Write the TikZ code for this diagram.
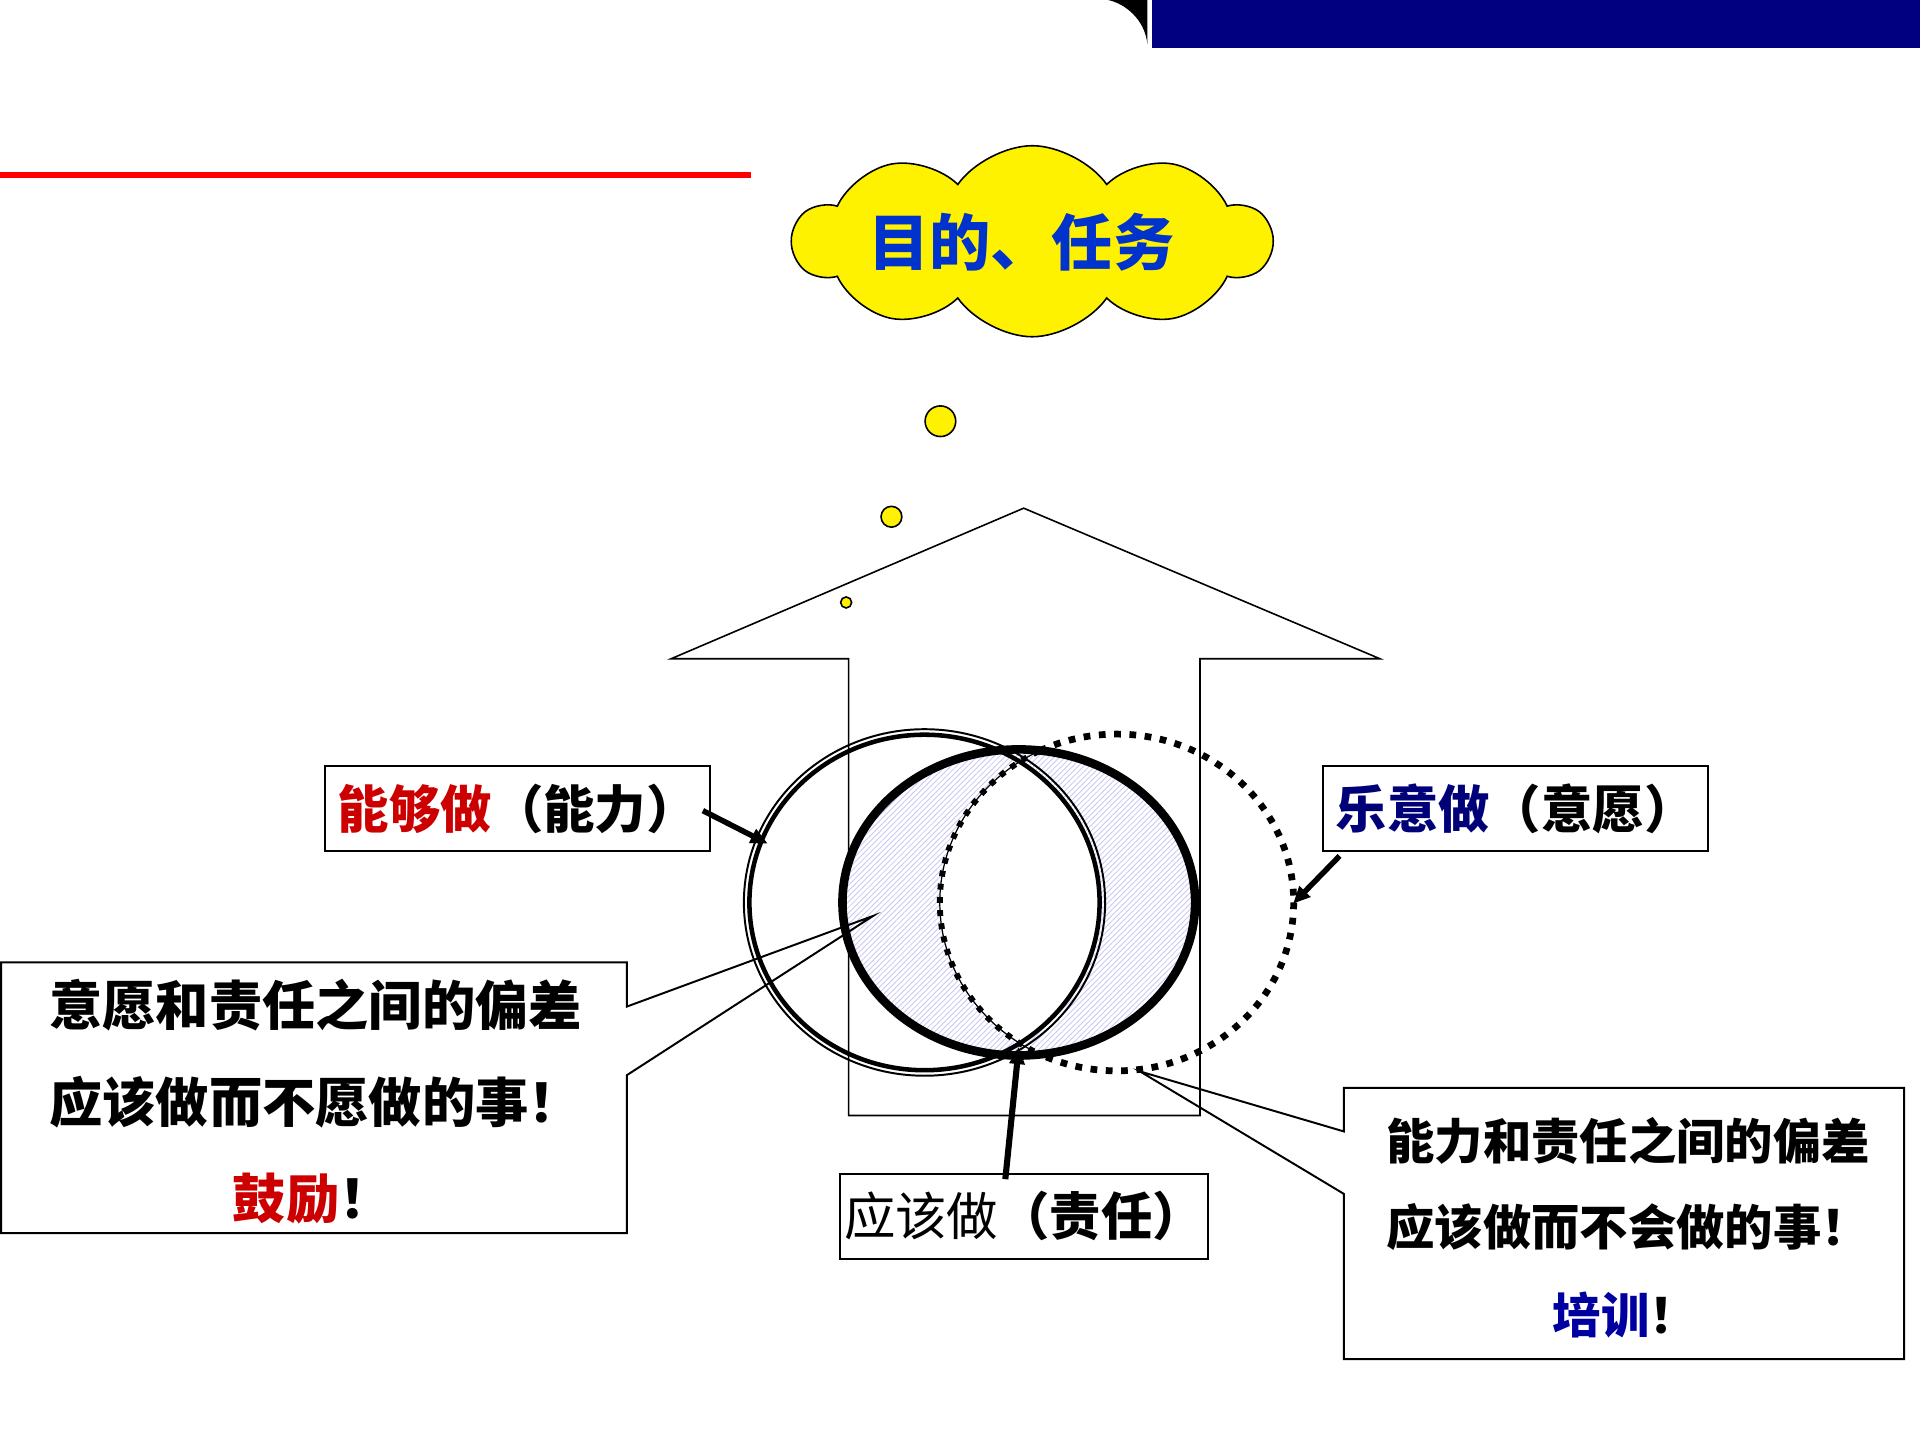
\documentclass[tikz,border=0pt]{standalone}
\usepackage{fontspec}
\newfontfamily\cjk{Noto Sans CJK SC}
\usetikzlibrary{shapes.symbols,patterns.meta,arrows.meta}
\definecolor{navybar}{RGB}{0,0,128}
\definecolor{lblred}{RGB}{204,0,0}
\definecolor{lblnavy}{RGB}{0,0,120}
\definecolor{lblblue}{RGB}{0,0,160}
\definecolor{cloudtext}{RGB}{0,51,204}
\definecolor{hatch}{RGB}{200,200,245}
\begin{document}
\begin{tikzpicture}[x=1pt,y=-1pt,
  thinline/.style={draw=black,line width=1.3},
  boxline/.style={draw=black,line width=1.6},
  lblfont/.style={font=\cjk\bfseries\fontsize{42}{48}\selectfont},
  arrowline/.style={draw=black,line width=4.5,-{Triangle[length=14pt,width=12pt]}},
  bubble/.style={circle,draw=black,line width=1.3,fill=yellow,inner sep=0},
  txt/.style={inner sep=0,anchor=west}]
\useasboundingbox (0,0) rectangle (1568,1176);
% header
\fill[navybar] (941,0) rectangle (1568,39);
\fill[black] (905,0) .. controls (919,3) and (935,16) .. (937,36) -- (937,0) -- cycle;
\draw[red,line width=5] (0,143) -- (613,143);
% cloud
\node[cloud,cloud puffs=10,cloud puff arc=110,aspect=2.5,draw=black,line width=1.3,fill=yellow,
      minimum width=390,minimum height=156,inner sep=0] (cloud) at (843,197) {};
\node[font=\cjk\bfseries\fontsize{50}{60}\selectfont,text=cloudtext,inner sep=0] (goal) at (834,198) {目的、任务};
% bubbles
\node[bubble,minimum size=25] (b1) at (768,344) {};
\node[bubble,minimum size=17] (b2) at (728,422) {};
\node[bubble,minimum size=9] (b3) at (691,492) {};
% big arrow
\draw[thinline] (548,538) -- (836,415) -- (1127,538) -- (980,538) -- (980,911) -- (693,911) -- (693,538) -- cycle;
% dotted circle (willing)
\draw[line width=5.5,dash pattern=on 5.5pt off 7pt] (912,737) ellipse [x radius=144.5,y radius=137.5];
% shading inside responsibility ellipse
\begin{scope}
  \clip (832,737) ellipse [x radius=144,y radius=125];
  \fill[white] (832,737) ellipse [x radius=150,y radius=130];
  \fill[pattern={Lines[angle=45,distance=3.2pt,line width=0.7pt]},pattern color=hatch]
     (832,737) ellipse [x radius=150,y radius=130];
  \begin{scope}
    \clip (755,737) ellipse [x radius=145,y radius=139];
    \fill[white] (912,737) ellipse [x radius=144.5,y radius=137.5];
  \end{scope}
  \draw[line width=1] (912,737) ellipse [x radius=144.5,y radius=137.5];
  \draw[line width=4.8,dash pattern=on 4.8pt off 6pt] (912,737) ellipse [x radius=144.5,y radius=137.5];
\end{scope}
% responsibility ellipse
\draw[line width=7] (832,737) ellipse [x radius=144,y radius=125];
% ability circle (thin-thick double line)
\draw[line width=1.6] (755,737) ellipse [x radius=147.5,y radius=141.5];
\draw[line width=3.7] (755,737) ellipse [x radius=143,y radius=137];
% label boxes
\node[boxline,lblfont,minimum width=314,minimum height=69,inner sep=0,anchor=north west] (lab1) at (265,625)
  {{\color{lblred}能够做}（能力）};
\node[boxline,lblfont,minimum width=314,minimum height=69,inner sep=0,anchor=north west] (lab2) at (1080,625)
  {{\color{lblnavy}乐意做}（意愿）};
\node[boxline,lblfont,minimum width=301,minimum height=69,inner sep=0,anchor=north west] (lab3) at (685,958)
  {{\mdseries 应该做}（责任）};
% arrows
\coordinate (a1s) at (574,662); \coordinate (a1t) at (627,689);
\coordinate (a2s) at (1094,699); \coordinate (a2t) at (1056,738);
\coordinate (a3s) at (821,963); \coordinate (a3t) at (832,855);
\draw[arrowline] (a1s) -- (a1t);
\draw[arrowline] (a2s) -- (a2t);
\draw[arrowline,line width=5] (a3s) -- (a3t);
% callouts
\coordinate (tipL) at (713,748);
\coordinate (tipR) at (931,875);
\draw[boxline,line join=miter] (1,786) -- (512,786) -- (512,822) -- (tipL) -- (512,878) -- (512,1007) -- (1,1007) -- cycle;
\draw[boxline,line join=miter] (1097.5,888.5) -- (1555,888.5) -- (1555,1110) -- (1097.5,1110) -- (1097.5,975) -- (tipR) -- (1097.5,924) -- cycle;
% callout texts
\begin{scope}[font=\cjk\bfseries\fontsize{43.5}{50}\selectfont]
\node[txt] (l1) at (40,821) {意愿和责任之间的偏差};
\node[txt] (l2) at (40,900) {应该做而不愿做的事！};
\node[txt] (l3) at (190,979) {{\color{lblred}鼓励}！};
\end{scope}
\begin{scope}[font=\cjk\bfseries\fontsize{39.5}{46}\selectfont]
\node[txt] (r1) at (1132,932) {能力和责任之间的偏差};
\node[txt] (r2) at (1132,1002) {应该做而不会做的事！};
\node[txt] (r3) at (1268,1074) {{\color{lblblue}培训}！};
\end{scope}
\end{tikzpicture}
\end{document}
